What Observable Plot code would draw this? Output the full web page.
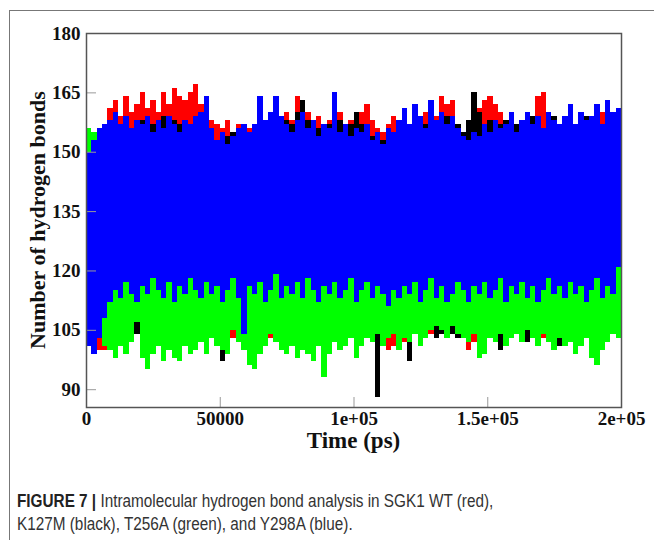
<!DOCTYPE html>
<html><head><meta charset="utf-8">
<script src="https://cdn.jsdelivr.net/npm/d3@7"></script>
<script src="https://cdn.jsdelivr.net/npm/@observablehq/plot@0.6"></script>
<style>
body{margin:0;background:#fff;width:654px;height:540px;overflow:hidden;position:relative}
#border{position:absolute;left:9px;top:10px;width:700px;height:600px;border-top:1.5px solid #777;border-left:1.5px solid #777}
#chart{position:absolute;left:0;top:0}
#caption{position:absolute;left:17px;top:490px;font-family:"Liberation Sans",Arial,sans-serif;font-size:17.5px;line-height:23px;color:#333;white-space:nowrap;transform:scaleX(0.875);transform-origin:0 0}
#caption b{color:#222}
</style></head><body>
<div id="border"></div>
<div id="chart"></div>
<div id="caption"><b>FIGURE 7 |</b> Intramolecular hydrogen bond analysis in SGK1 WT (red),<br>K127M (black), T256A (green), and Y298A (blue).</div>
<script>
// series names and colours
const seriesNames = ["WT", "K127M", "T256A", "Y298A"];
const seriesColors = ["#ff0000", "#000000", "#00ff00", "#0000ff"];
// time bins (ps): 100 bins of 2000 ps
const binWidth = 2000;
const time = d3.range(100).map(i => i * binWidth + binWidth / 2);
// axis ticks
const xTicks = [0, 50000, 100000, 150000, 200000];
const xTickLabels = ["0", "50000", "1e+05", "1.5e+05", "2e+05"];
const yTicks = [90, 105, 120, 135, 150, 165, 180];

// per-bin max / min number of hydrogen bonds
const wtHi = [146,150,156,154,161,163,159,164,160,162, 165,161,163,160,165,162,166,164,163,165,
  167,162,161,158,157,156,158,155,157,154, 156,155,157,156,158,157,159,160,158,164,
  158,160,157,159,156,158,157,160,156,158, 159,160,162,158,156,155,157,159,158,155,
  156,158,157,160,156,159,164,162,163,157, 155,156,157,161,163,164,162,160,157,159,
  156,158,159,157,164,165,160,158,157,156, 158,157,159,156,158,157,160,158,156,157];
const wtLo = [102,104,100,100,106,108,107,109,106,108, 107,109,108,110,107,109,108,106,110,108,
  109,107,108,106,109,107,104,103,108,107, 108,106,109,107,103,108,107,109,106,108,
  107,109,108,106,108,107,109,108,106,105, 107,108,106,106,101,108,100,101,107,102,
  108,106,105,107,104,106,108,107,105,104, 103,100,102,106,105,107,108,106,107,109,
  108,107,106,109,107,103,108,107,106,108, 107,109,106,108,107,109,106,108,107,108];
const k127mHi = [155,152,150,153,155,157,154,156,155,157, 158,156,157,155,159,156,158,157,155,156,
  157,155,154,156,153,152,154,155,153,155, 154,155,153,156,155,157,156,158,157,160,
  163,158,157,156,155,157,156,158,155,157, 160,157,156,154,155,153,156,155,157,156,
  157,158,156,157,155,158,157,159,156,157, 155,158,165,160,157,158,156,157,158,156,
  157,158,156,159,157,156,158,159,157,156, 158,157,156,159,157,158,156,157,158,157];
const k127mLo = [104,105,107,108,107,109,108,110,107,104, 105,108,109,107,110,108,109,107,108,106,
  108,107,109,106,108,97,107,109,108,107, 109,107,108,106,109,107,108,106,109,108,
  107,109,108,106,108,107,109,108,107,105, 106,108,107,105,88,106,104,107,105,106,
  97,105,106,104,107,103,104,106,104,103, 105,104,106,103,105,104,106,100,105,104,
  106,105,102,104,106,105,104,106,101,101, 105,104,106,104,103,105,104,106,105,107];
const t256aHi = [156,155,152,150,151,149,152,150,148,151, 150,148,151,149,150,152,150,149,151,148,
  150,151,149,147,150,148,149,151,150,148, 149,150,151,148,150,149,151,150,148,152,
  150,149,151,148,150,149,150,151,149,150, 148,150,149,152,151,150,153,148,150,149,
  151,150,149,151,150,152,150,149,151,150, 149,151,150,148,150,151,149,150,152,151,
  150,149,151,150,148,151,150,149,151,150, 151,150,152,149,150,151,150,152,151,150];
const t256aLo = [106,104,103,101,100,98,101,99,102,107, 98,95,99,101,97,100,98,97,101,99,
  100,102,99,103,101,100,99,105,102,100, 96,95,99,101,104,102,100,99,101,98,
  100,99,97,101,93,99,102,100,101,103, 98,101,103,102,104,101,103,104,100,103,
  102,104,101,103,105,106,105,103,106,104, 103,102,104,98,99,103,102,104,101,103,
  104,102,105,103,101,104,102,100,103,101, 102,99,101,103,98,96,100,102,104,103];
const y298aHi = [150,153,156,157,158,160,157,159,156,158, 157,159,155,158,156,159,157,155,158,157,
  159,160,164,156,153,155,152,154,156,157, 155,157,164,158,160,164,159,157,155,158,
  160,156,158,154,157,156,165,155,157,154, 156,155,157,153,155,152,156,155,158,161,
  157,162,159,156,163,158,160,157,159,156, 154,153,155,154,157,155,158,156,157,160,
  155,158,160,157,159,156,160,158,157,159, 162,157,160,158,159,162,157,163,160,161];
const y298aLo = [101,99,103,108,112,115,113,117,114,112, 116,114,118,115,113,117,112,116,114,118,
  115,113,117,114,116,112,115,118,113,104, 116,114,117,112,115,119,113,116,114,117,
  113,118,115,112,116,114,117,113,115,118, 112,115,117,113,116,114,111,115,113,116,
  114,117,112,115,118,113,116,112,114,117, 115,112,116,114,117,113,115,118,112,116,
  114,117,113,116,112,115,118,114,116,113, 117,114,116,112,115,118,113,116,114,121];

const his = [wtHi, k127mHi, t256aHi, y298aHi];
const los = [wtLo, k127mLo, t256aLo, y298aLo];

const width = 654, height = 460;
const marginLeft = 86, marginRight = 33, marginTop = 33, marginBottom = 53;

const seriesMarks = seriesNames.map((name, s) =>
  Plot.rect(time.map((t, i) => ({t0: t - binWidth / 2, t1: t + binWidth / 2, lo: los[s][i], hi: his[s][i]})), {
    x1: "t0", x2: "t1", y1: "lo", y2: "hi", fill: seriesColors[s], shapeRendering: "crispEdges"
  })
);

const chart = Plot.plot({
  width, height, marginLeft, marginRight, marginTop, marginBottom,
  x: {domain: [0, 200000]},
  y: {domain: [85.5, 180]},
  style: {fontFamily: "'Liberation Serif','Times New Roman',serif", background: "transparent", overflow: "visible"},
  marks: [
    ...seriesMarks,
    Plot.axisY(yTicks, {tickSize: -10, tickPadding: 16, fontSize: 19, fontWeight: "bold", stroke: "#999", fill: "#111", label: null}),
    Plot.axisX(xTicks, {tickSize: -10, tickPadding: 14, fontSize: 19, fontWeight: "bold", stroke: "#999", fill: "#111", label: null,
      tickFormat: d => xTickLabels[xTicks.indexOf(d)]}),
    Plot.frame({stroke: "#555", strokeWidth: 1.5})
  ]
});
document.getElementById("chart").appendChild(chart);
const svg = d3.select(chart);
svg.append("text").attr("x", (marginLeft + width - marginRight) / 2).attr("y", 448)
  .attr("text-anchor", "middle").attr("font-size", 23).attr("font-weight", "bold").attr("fill", "#111")
  .text("Time (ps)");
svg.append("text").attr("transform", `translate(45,${(marginTop + height - marginBottom) / 2}) rotate(-90)`)
  .attr("text-anchor", "middle").attr("font-size", 22).attr("font-weight", "bold").attr("fill", "#111")
  .text("Number of hydrogen bonds");
</script>
</body></html>
